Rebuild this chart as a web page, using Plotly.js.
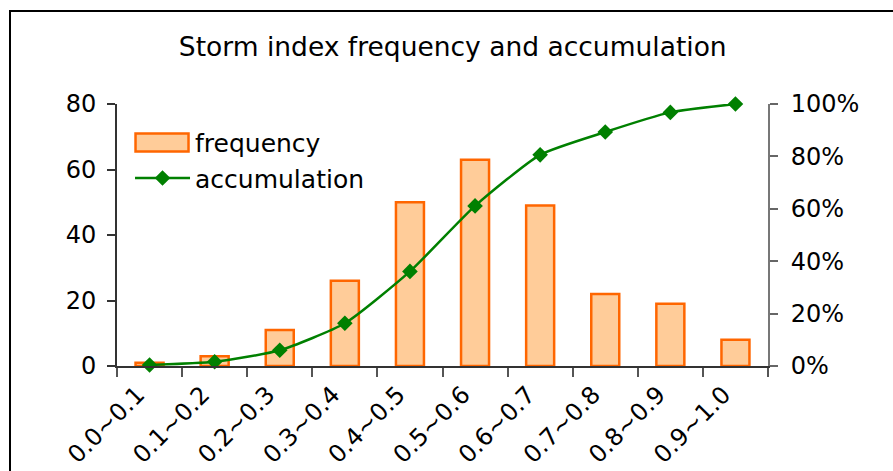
<!DOCTYPE html>
<html>
<head>
<meta charset="utf-8">
<script src="https://cdn.plot.ly/plotly-3.0.1.min.js"></script>
<style>
  html, body { margin: 0; padding: 0; background: #fff; overflow: hidden; }
  #chart { width: 893px; height: 471px; }
  #frame { position: absolute; left: 9px; top: 10px; width: 1000px; height: 1000px;
           border: 2px solid #000; pointer-events: none; }
</style>
</head>
<body>
<div id="chart"></div>
<div id="frame"></div>
<script>
const categories = ["0.0~0.1", "0.1~0.2", "0.2~0.3", "0.3~0.4", "0.4~0.5",
                    "0.5~0.6", "0.6~0.7", "0.7~0.8", "0.8~0.9", "0.9~1.0"];
const frequency = [1, 3, 11, 26, 50, 63, 49, 22, 19, 8];
const accumulation = [0.4, 1.6, 6.0, 16.3, 36.1, 61.1, 80.6, 89.3, 96.8, 100];
const leftTicks = [0, 20, 40, 60, 80];
const rightTicks = [0, 20, 40, 60, 80, 100];
const rightTickLabels = ["0%", "20%", "40%", "60%", "80%", "100%"];

const FONT = "DejaVu Sans, Verdana, sans-serif";

const traces = [
  {
    type: "bar", name: "frequency", x: categories, y: frequency,
    xaxis: "x", yaxis: "y",
    marker: { color: "#FFCC99", line: { color: "#FF6600", width: 2.5 } },
    hoverinfo: "x+y"
  },
  {
    type: "scatter", mode: "lines+markers", name: "accumulation",
    x: categories, y: accumulation, xaxis: "x", yaxis: "y2",
    line: { color: "#008000", width: 2.5, shape: "spline", smoothing: 0.55 },
    marker: { symbol: "diamond", size: 12, color: "#008000" },
    cliponaxis: false
  }
];

const layout = {
  width: 893, height: 471,
  margin: { l: 117, r: 125, t: 104, b: 105 },
  paper_bgcolor: "#fff", plot_bgcolor: "#fff",
  font: { family: FONT, color: "#000", size: 24 },
  title: { text: "Storm index frequency and accumulation",
           x: 0.507, xanchor: "center", y: 0.9, yanchor: "middle",
           font: { family: FONT, size: 26.5, color: "#000" } },
  bargap: 0.57,
  showlegend: true,
  legend: { x: 0.02, y: 0.94, xanchor: "left", yanchor: "top",
            bgcolor: "rgba(0,0,0,0)", font: { family: FONT, size: 25, color: "#000" },
            itemwidth: 55, tracegroupgap: 0 },
  xaxis: {
    type: "category", range: [-0.5, 9.5], tickson: "boundaries",
    ticks: "outside", ticklen: 9, tickwidth: 2, tickcolor: "#555",
    showline: true, linecolor: "#333", linewidth: 2,
    showgrid: false, zeroline: false, tickangle: -45,
    ticklabelshift: -12, ticklabelstandoff: 3,
    tickfont: { family: FONT, size: 24, color: "#000" }
  },
  xaxis2: {
    overlaying: "x", side: "top", showline: true, linecolor: "#888", linewidth: 2,
    showticklabels: false, ticks: "", showgrid: false, zeroline: false, range: [0, 1]
  },
  yaxis: {
    range: [0, 80], tickvals: leftTicks, ticks: "outside", ticklen: 8, tickwidth: 2,
    tickcolor: "#333", showline: true, linecolor: "#333", linewidth: 2,
    showgrid: false, zeroline: false, ticklabelstandoff: 6,
    tickfont: { family: FONT, size: 24, color: "#000" }
  },
  yaxis3: {
    overlaying: "y", side: "left", range: [0, 80], tickvals: leftTicks,
    ticks: "inside", ticklen: 8, tickwidth: 2, tickcolor: "#333",
    showticklabels: false, showline: false, showgrid: false, zeroline: false
  },
  yaxis2: {
    overlaying: "y", side: "right", range: [0, 100],
    tickmode: "array", tickvals: rightTicks, ticktext: rightTickLabels,
    ticks: "outside", ticklen: 8, tickwidth: 2, tickcolor: "#666",
    showline: true, linecolor: "#777", linewidth: 2,
    showgrid: false, zeroline: false, ticklabelstandoff: 8,
    tickfont: { family: FONT, size: 24, color: "#000" }
  },
  yaxis4: {
    overlaying: "y", side: "right", range: [0, 100], tickvals: rightTicks,
    ticks: "inside", ticklen: 8, tickwidth: 2, tickcolor: "#666",
    showticklabels: false, showline: false, showgrid: false, zeroline: false
  }
};

Plotly.newPlot("chart", traces, layout, { staticPlot: true, displayModeBar: false })
  .then(function (gd) {
    // widen the bar legend swatch to match the reference's long rectangle
    const items = gd.querySelectorAll(".legend .traces");
    if (items.length) {
      const p = items[0].querySelector(".legendpoints path");
      if (p) p.setAttribute("d", "M-27,-9h53v18h-53Z");
    }
  });
</script>
</body>
</html>
